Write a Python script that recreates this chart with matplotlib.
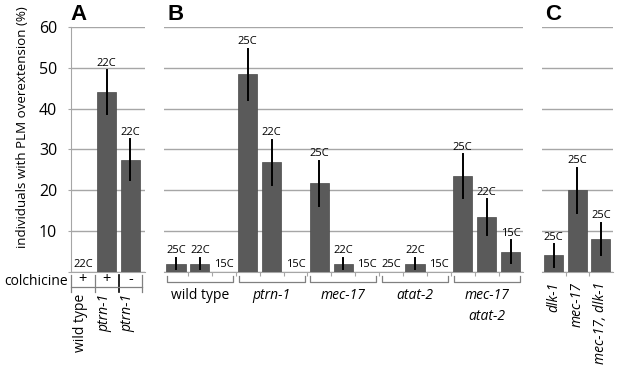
import matplotlib
matplotlib.use("Agg")
import matplotlib.pyplot as plt

plt.rcParams["font.family"] = ["Open Sans", "DejaVu Sans"]

# Panel A: colchicine treatment
a_labels = ["wild type", "ptrn-1", "ptrn-1"]
a_italic = [False, True, True]
a_colchicine = ["+", "+", "-"]
a_values = [0, 44.0, 27.5]
a_err = [0, 5.4, 5.0]
a_temps = ["22C", "22C", "22C"]

# Panel B: genotypes at three temperatures
b_groups = ["wild type", "ptrn-1", "mec-17", "atat-2", "mec-17\natat-2"]
b_italic = [False, True, True, True, True]
b_temps = ["25C", "22C", "15C"] * 5
b_values = [2, 2, 0, 48.4, 26.8, 0, 21.7, 2, 0, 0, 2, 0, 23.4, 13.4, 4.9]
b_err = [1.4, 1.4, 0, 6.3, 5.6, 0, 5.5, 1.4, 0, 0, 1.4, 0, 5.4, 4.4, 2.8]

# Panel C: dlk-1 suppression
c_labels = ["dlk-1", "mec-17", "mec-17, dlk-1"]
c_values = [4.0, 20.0, 8.1]
c_err = [2.8, 5.5, 3.9]
c_temps = ["25C", "25C", "25C"]

bar_color = "#5a5a5a"
grid_color = "#a6a6a6"

fig = plt.figure(figsize=(6.17, 3.67), dpi=100)
bottom, height = 0.2597, 0.6667
ax_a = fig.add_axes([71 / 617, bottom, 74 / 617, height])
ax_b = fig.add_axes([164 / 617, bottom, 358.5 / 617, height])
ax_c = fig.add_axes([542 / 617, bottom, 70.5 / 617, height])


def draw_bars(ax, values, errs, temps, xmax):
    xs = list(range(len(values)))
    ax.bar(xs, values, width=0.8, color=bar_color, edgecolor="#4a4a4a",
           linewidth=0.5, zorder=3)
    for x, v, e, t in zip(xs, values, errs, temps):
        if e > 0:
            ax.plot([x, x], [v - e, v + e], color="black", lw=1.4, zorder=4)
        ax.annotate(t, (x, v + e), xytext=(0, 1), textcoords="offset points",
                    ha="center", va="bottom", fontsize=8)
    ax.set_xlim(-0.5, xmax)
    ax.set_ylim(0, 60)
    ax.set_yticks([0, 10, 20, 30, 40, 50, 60])
    ax.yaxis.grid(True, color=grid_color, lw=1.0)
    ax.set_axisbelow(True)
    for side in ["top", "right", "left"]:
        ax.spines[side].set_visible(False)
    ax.spines["bottom"].set_color(grid_color)
    ax.tick_params(axis="x", length=3, color=grid_color, labelbottom=False)
    ax.set_xticks([i + 0.5 for i in range(len(values) - 1)])


draw_bars(ax_a, a_values, a_err, a_temps, 2.61)
draw_bars(ax_b, b_values, b_err, b_temps, 14.5)
draw_bars(ax_c, c_values, c_err, c_temps, 2.5)

# y axis only on panel A
ax_a.spines["left"].set_visible(True)
ax_a.spines["left"].set_color(grid_color)
ax_a.set_yticklabels(["", "10", "20", "30", "40", "50", "60"])
ax_a.tick_params(axis="y", length=2, color=grid_color, labelsize=11.5, pad=8)
ax_a.tick_params(axis="x", length=0)
for ax in (ax_b, ax_c):
    ax.tick_params(axis="y", length=0, labelleft=False)

# Panel A colchicine row
for x in [-0.5, 0.5, 1.5, 2.5]:
    c = "black" if x == 1.5 else "#808080"
    ax_a.plot([x, x], [-0.8, -4.9], color=c, lw=1.2 if x == 1.5 else 0.9,
              clip_on=False)
ax_a.plot([-0.5, 2.5], [-3.7, -3.7], color="#808080", lw=0.9, clip_on=False)
for i, s in enumerate(a_colchicine):
    ax_a.text(i, -2.0, s, ha="center", va="center", fontsize=10.5)
ax_a.text(-0.62, -2.4, "colchicine", ha="right", va="center", fontsize=10)
for i, (lab, it) in enumerate(zip(a_labels, a_italic)):
    ax_a.text(i - 0.1, -5.5, lab, rotation=90, ha="center", va="top",
              fontsize=10, style="italic" if it else "normal")

# Panel B group brackets
for g, (lab, it) in enumerate(zip(b_groups, b_italic)):
    x0, x1 = 3 * g - 0.5 + 0.12, 3 * g + 2.5 - 0.12
    ax_b.plot([x0, x0, x1, x1], [-1.1, -2.5, -2.5, -1.1], color="#808080",
              lw=0.9, clip_on=False)
    ax_b.text(3 * g + 1, -4.0, lab, ha="center", va="top", fontsize=10,
              style="italic" if it else "normal", linespacing=1.5)

# Panel C labels
for i, lab in enumerate(c_labels):
    ax_c.text(i, -2.5, lab, rotation=90, ha="center", va="top", fontsize=10,
              style="italic")

fig.text(0.036, 0.653, "individuals with PLM overextension (%)", rotation=90,
         ha="center", va="center", fontsize=9.6)

for x, letter in [(70, "A"), (168, "B"), (545, "C")]:
    fig.text(x / 617, 0.99, letter, ha="left", va="top", fontsize=16,
             fontweight="bold", family="Liberation Sans")

fig.savefig("out.png", dpi=100)
